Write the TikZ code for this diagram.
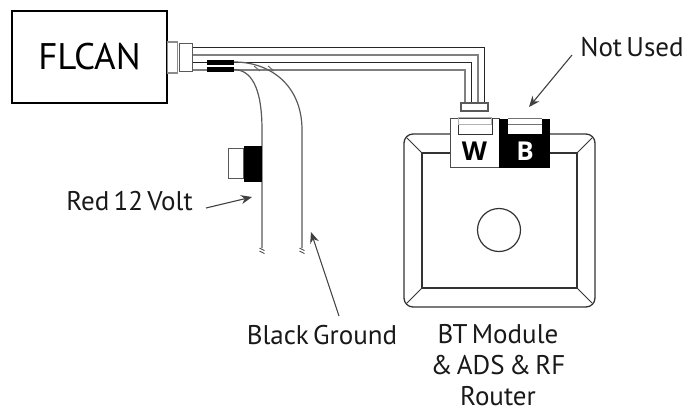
\documentclass[tikz,border=0pt]{standalone}
\usepackage{fontspec}
\setmainfont[WordSpace=0.6]{PT Sans}
\newfontfamily\wbfont{Open Sans}
\usetikzlibrary{arrows.meta}
\tikzset{
  lbl/.style={inner sep=0pt,font=\fontsize{27}{31}\selectfont,align=center,text=black!90},
  wireB/.style={line width=1pt,black!85},
  wireG/.style={line width=1.2pt,black!50},
  curv/.style={line width=1.2pt,black!65},
  ptr/.style={line width=1.1pt,black!75,-{Stealth[length=11pt,width=9pt]}},
  devline/.style={line width=1.3pt,black!80},
  conn/.style={draw=black!65,fill=white,line width=1.1pt}
}
\begin{document}
\begin{tikzpicture}[x=1pt,y=-1pt]
\useasboundingbox (0,0) rectangle (688,413);
\node[draw,line width=2pt,minimum width=155pt,minimum height=92pt,inner sep=0pt,font=\fontsize{37}{40}\selectfont] (flcan) at (89.5,57) {FLCAN};
% connectors on FLCAN
\node[conn,minimum width=10pt,minimum height=31pt,inner sep=0pt,draw=black!45] (c1) at (172.5,57.5) {};
\node[conn,minimum width=12.5pt,minimum height=27.5pt,inner sep=0pt] (c2) at (186,57.5) {};
% socket connector
\node[conn,minimum width=27pt,minimum height=8pt,inner sep=0pt] (c3) at (474.5,107) {};
% four wires
\draw[wireB] (c2.east |- 0,47.5) -- (484,47.5) -- (c3.north -| 484,0);
\draw[wireG] (c2.east |- 0,55) -- (478,55) -- (c3.north -| 478,0);
\draw[wireB] (c2.east |- 0,62) -- (471.5,62) -- (c3.north -| 471.5,0);
\draw[wireG] (c2.east |- 0,70) -- (465,70) -- (c3.north -| 465,0);
% device body
\draw[devline,rounded corners=9pt] (404,134) rectangle (595,307);
\draw[devline] (422,153) rectangle (577,288);
\draw[line width=1pt,black!80] (407,138) -- (422,153) (592,138) -- (577,153) (407,303) -- (422,288) (592,303) -- (577,288);
\node[draw=black!80,line width=1.2pt,circle,minimum size=43pt,inner sep=0pt] (hole) at (499,230) {};
% sockets
\node[draw=black!70,fill=white,line width=1pt,minimum width=49pt,minimum height=49pt,inner sep=0pt] (w) at (474.5,143) {};
\node[fill=black,minimum width=51pt,minimum height=49pt,inner sep=0pt] (b) at (524.5,143) {};
\fill[white] (508,118) rectangle (542,134);
\draw[black!55,line width=0.8pt] (508,118.5) -- (542,118.5);
\draw[black!55,line width=0.8pt] (508,124.5) -- (542,124.5);
\draw[black!80,line width=1pt] (458,118) -- (458,134) -- (492,134) -- (492,118);
\draw[black!60,line width=0.8pt] (458,124.5) -- (492,124.5);
\draw[black!30,line width=0.8pt] (458,117) rectangle (491,124.5);
\node[inner sep=0pt,font=\wbfont\fontsize{26}{28}\bfseries\selectfont] at (474.5,151) {W};
\node[inner sep=0pt,font=\wbfont\fontsize{26}{28}\bfseries\selectfont,text=white] at (525,151) {B};
% sleeves and drop wires
\node[fill=black,minimum width=27pt,minimum height=5pt,inner sep=0pt] (s1) at (220.5,62) {};
\node[fill=black,minimum width=27pt,minimum height=5pt,inner sep=0pt] (s2) at (220.5,69.5) {};
\coordinate (e1) at (262,248);
\coordinate (e2) at (302,248);
\draw[curv] (s2.east) .. controls (250,70) and (262,85) .. (262,130) -- (e1);
\draw[curv] (s1.east) .. controls (270,62) and (302,85) .. (302,130) -- (e2);
\draw[black!60,line width=0.9pt] (254,66) -- (260,71) (268,66) -- (274,71);
\draw[black!70,line width=0.9pt] (259.5,248) -- (264.5,250.5) (259.5,251) -- (264.5,253.5);
\draw[black!70,line width=0.9pt] (299.5,248) -- (304.5,250.5) (299.5,251) -- (304.5,253.5);
% inline fuse holder
\node[draw=black!65,fill=white,line width=1pt,minimum width=14.5pt,minimum height=30pt,inner sep=0pt] (fw) at (236,163) {};
\node[fill=black,minimum width=18pt,minimum height=36pt,inner sep=0pt] (fb) at (252.5,163.5) {};
% labels
\node[lbl] (nu) at (632,47) {Not Used};
\node[lbl] (rv) at (129.5,201) {Red 12 Volt};
\node[lbl] (bg) at (322,335) {Black Ground};
\node[lbl] (bt) at (498,365.5) {BT Module\\\& ADS \& RF\\Router};
\coordinate (t1) at (529,107);
\coordinate (t2) at (252,197);
\coordinate (t3) at (311,232);
\coordinate (a1) at (572,55);
\coordinate (a2) at (206,208);
\coordinate (a3) at (339,316);
\draw[ptr] (a1) -- (t1);
\draw[ptr] (a2) -- (t2);
\draw[ptr] (a3) -- (t3);
\end{tikzpicture}
\end{document}
